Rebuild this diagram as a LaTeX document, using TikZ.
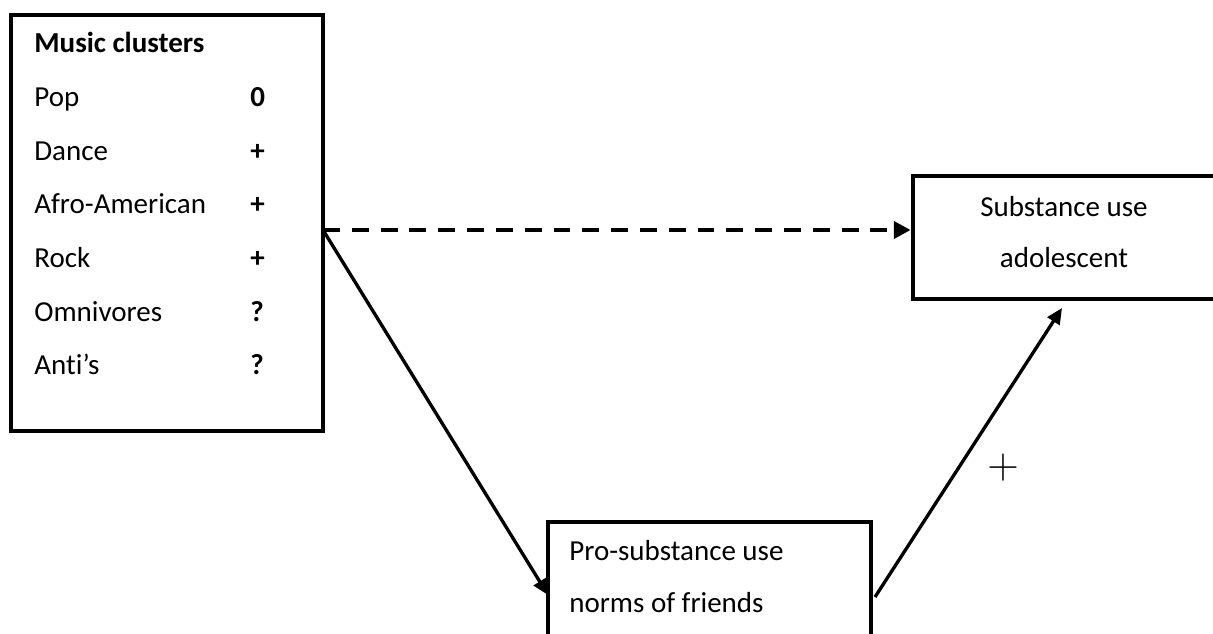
\documentclass[tikz,border=0pt]{standalone}
\usepackage{fontspec}
\setmainfont{Carlito}[Ligatures=NoCommon]
\usetikzlibrary{arrows.meta,positioning}

\begin{document}
\begin{tikzpicture}[x=0.02cm,y=-0.02cm,
    every node/.style={font=\fontsize{16.5}{20}\selectfont,inner sep=0pt},
    box/.style={draw,line width=2.7pt,rectangle},
    item/.style={anchor=base west},
    sign/.style={anchor=base west,font=\fontsize{16.5}{20}\selectfont\bfseries},
    link/.style={line width=1.9pt,-{Triangle[length=9pt,width=8pt]}}]
  \useasboundingbox (0,0) rectangle (1213,634);
  % boxes
  \node[box,minimum width=6.24cm,minimum height=8.32cm] (music) at (167,223) {};
  \node[box,minimum width=6.34cm,minimum height=2.46cm] (subst) at (1071.5,237.5) {};
  \node[box,minimum width=6.46cm,minimum height=3.16cm] (norms) at (709.5,601) {};
  % music clusters
  \node[sign] (title) at (34,53) {Music clusters};
  \node[item] (pop) at (34,107) {Pop};
  \node[sign] (popv) at (250,107) {0};
  \node[item] (dance) at (34,161) {Dance};
  \node[sign] (dancev) at (250,161) {+};
  \node[item] (afro) at (34,214) {Afro-American};
  \node[sign] (afrov) at (250,214) {+};
  \node[item] (rock) at (34,268) {Rock};
  \node[sign] (rockv) at (250,268) {+};
  \node[item] (omni) at (34,322) {Omnivores};
  \node[sign] (omniv) at (250,322) {?};
  \node[item] (anti) at (34,375) {Anti’s};
  \node[sign] (antiv) at (250,375) {?};
  % outcome and mediator
  \node[anchor=base] (subst1) at (1064,217) {Substance use};
  \node[anchor=base] (subst2) at (1064,268) {adolescent};
  \node[item] (norms1) at (569,560) {Pro-substance use};
  \node[item] (norms2) at (569,612) {norms of friends};
  % paths
  \coordinate (src) at (323,230);
  \coordinate (med) at (548,595);
  \coordinate (mout) at (875,597);
  \coordinate (tip) at (1062,308);
  \draw[line width=2.5pt,dash pattern=on 9.6pt off 6.8pt,-{Triangle[length=9.5pt,width=9.5pt]}] (src) -- (src -| subst.west);
  \draw[link] (src) -- (med);
  \draw[link] (mout) -- (tip);
  \node[font=\fontsize{25}{30}\selectfont] (plus) at (1003,468) {$+$};
\end{tikzpicture}
\end{document}
